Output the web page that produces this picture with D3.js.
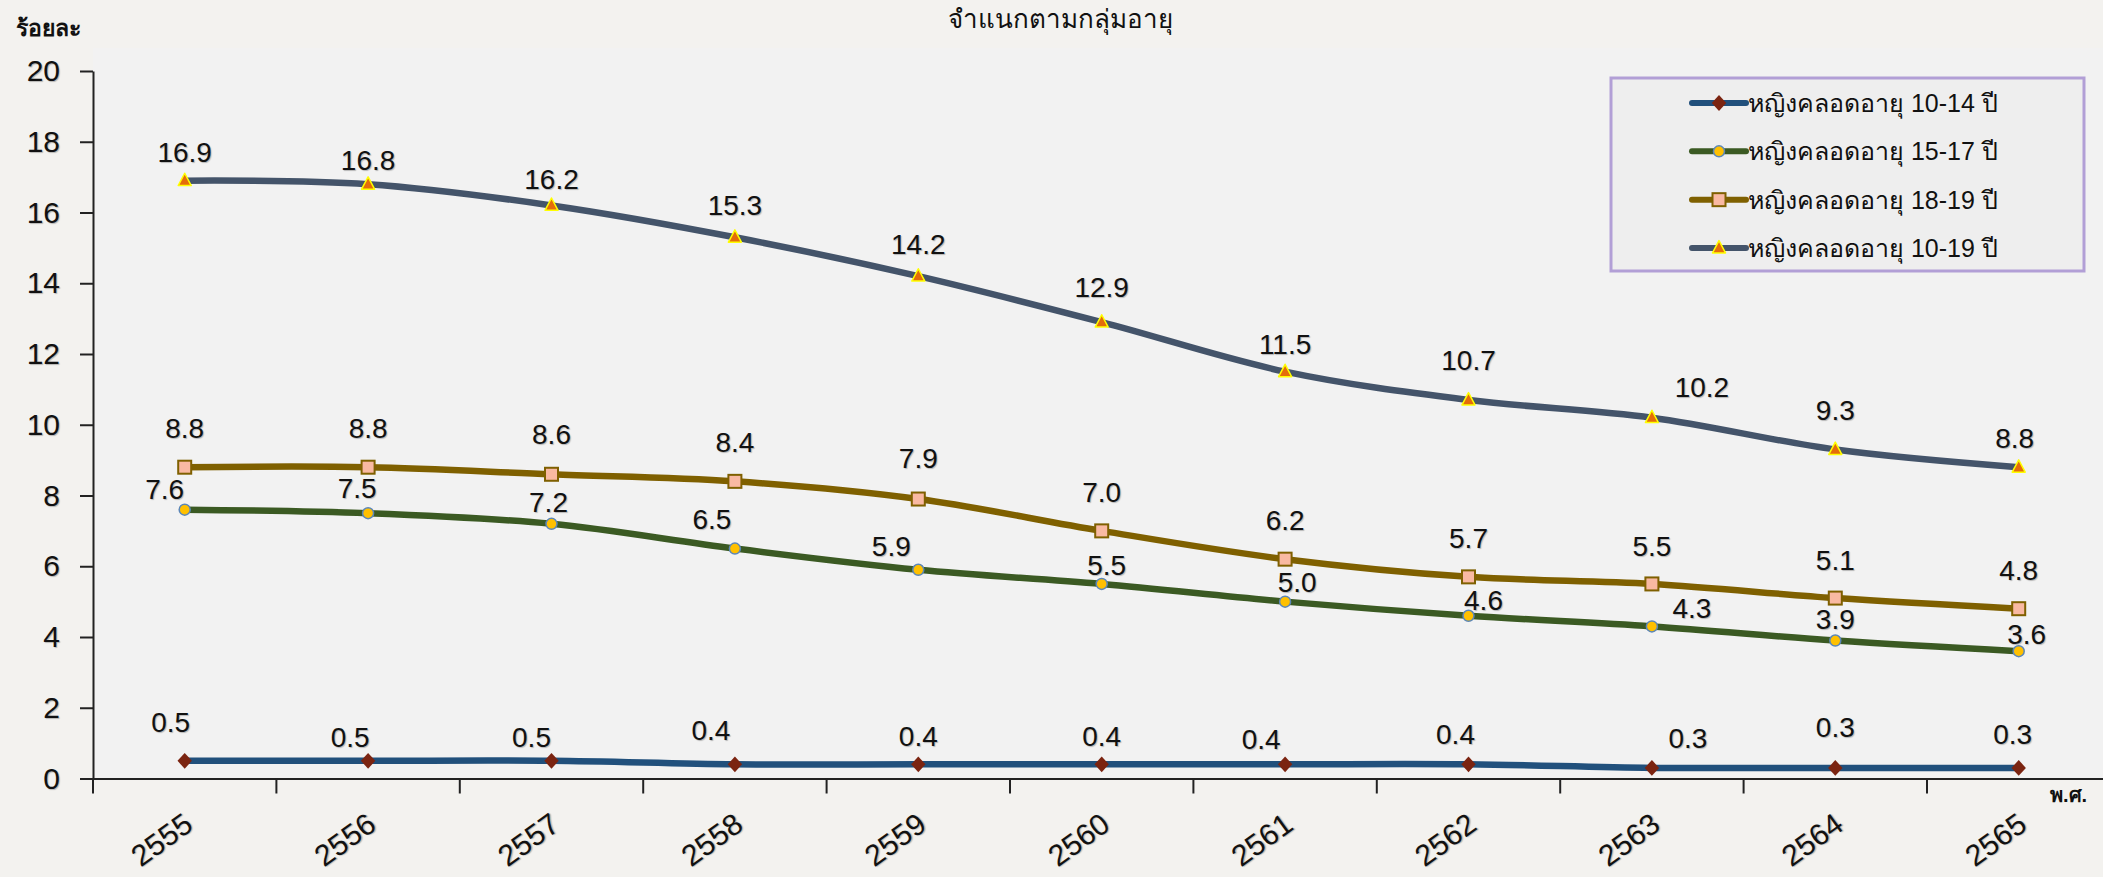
<!DOCTYPE html>
<html>
<head>
<meta charset="utf-8">
<script src="https://cdn.jsdelivr.net/npm/d3@7"></script>
<style>
  body { margin: 0; background: #f3f2ef; }
  svg { display: block; font-family: Tahoma, "Liberation Sans", "Noto Sans", sans-serif; }
  .lbl { text-shadow: 1px 1px 1px rgba(0,0,0,0.25); }
</style>
</head>
<body>
<svg width="2103" height="877"></svg>
<script>
const years = ["2555", "2556", "2557", "2558", "2559", "2560", "2561", "2562", "2563", "2564", "2565"];
const age1014 = [0.5, 0.5, 0.5, 0.4, 0.4, 0.4, 0.4, 0.4, 0.3, 0.3, 0.3];
const age1517 = [7.6, 7.5, 7.2, 6.5, 5.9, 5.5, 5.0, 4.6, 4.3, 3.9, 3.6];
const age1819 = [8.8, 8.8, 8.6, 8.4, 7.9, 7.0, 6.2, 5.7, 5.5, 5.1, 4.8];
const age1019 = [16.9, 16.8, 16.2, 15.3, 14.2, 12.9, 11.5, 10.7, 10.2, 9.3, 8.8];
const seriesNames = ["หญิงคลอดอายุ 10-14 ปี", "หญิงคลอดอายุ 15-17 ปี", "หญิงคลอดอายุ 18-19 ปี", "หญิงคลอดอายุ 10-19 ปี"];
const yTicks = [0, 2, 4, 6, 8, 10, 12, 14, 16, 18, 20];

// label nudges (px) relative to each point, as placed in the original
const nudges = [
  { dx: [-14, -18, -20, -24, 0, 0, -24, -13, 36, 0, -6], dy: [-39, -24, -24, -34, -28, -28, -25, -30, -30, -41, -34] },
  { dx: [-20, -11, -3, -23, -27, 5, 12, 15, 40, 0, 8], dy: [-21, -25, -22, -30, -24, -19, -20, -16, -18, -22, -17] },
  { dx: [0, 0, 0, 0, 0, 0, 0, 0, 0, 0, 0], dy: [-39, -39, -40, -39, -41, -39, -39, -39, -38, -38, -39] },
  { dx: [0, 0, 0, 0, 0, 0, 0, 0, 50, 0, -4], dy: [-29, -24, -27, -32, -32, -35, -28, -40, -31, -40, -29] },
];

const series = [
  { name: seriesNames[0], values: age1014, line: "#21507c", marker: "diamond", fill: "#7b2411", stroke: "#7b2411" },
  { name: seriesNames[1], values: age1517, line: "#3b5a23", marker: "circle", fill: "#ffc000", stroke: "#5b86b8" },
  { name: seriesNames[2], values: age1819, line: "#7f6000", marker: "square", fill: "#f9b9a2", stroke: "#7f6000" },
  { name: seriesNames[3], values: age1019, line: "#44546a", marker: "triangle", fill: "#e46c0a", stroke: "#ffff00" },
];

const svg = d3.select("svg");
const plotLeft = 93, plotBottom = 778.5, plotTop = 71;
const band = 183.4;

const x = d3.scaleBand().domain(years).range([plotLeft, plotLeft + band * years.length]);
const y = d3.scaleLinear().domain([0, 20]).range([plotBottom, plotTop]);
const cx = d => x(d) + x.bandwidth() / 2;

// plot area
svg.append("rect")
  .attr("x", plotLeft).attr("y", 48)
  .attr("width", 2103 - plotLeft).attr("height", plotBottom - 48)
  .attr("fill", "#f2f2f2");

// title (second line of the heading)
svg.append("text")
  .attr("x", 1060).attr("y", 28)
  .attr("text-anchor", "middle")
  .attr("font-size", 26)
  .attr("fill", "#111")
  .text("จำแนกตามกลุ่มอายุ");

svg.append("text")
  .attr("x", 16).attr("y", 36)
  .attr("font-size", 23).attr("font-weight", "bold")
  .attr("fill", "#111")
  .text("ร้อยละ");

svg.append("text")
  .attr("x", 2050).attr("y", 802)
  .attr("font-size", 20).attr("font-weight", "bold")
  .attr("fill", "#111")
  .text("พ.ศ.");

// y axis
const yAxis = svg.append("g")
  .attr("transform", `translate(${plotLeft},0)`)
  .call(d3.axisLeft(y).tickValues(yTicks).tickSize(13).tickSizeOuter(0).tickPadding(20));
yAxis.select(".domain").attr("stroke", "#222").attr("stroke-width", 2);
yAxis.selectAll(".tick line").attr("stroke", "#222").attr("stroke-width", 2);
yAxis.selectAll(".tick text")
  .attr("class", "lbl")
  .attr("font-size", 30).attr("fill", "#111")
  .attr("font-family", "Tahoma, 'Liberation Sans', sans-serif");

// x axis
const xAxis = svg.append("g")
  .attr("transform", `translate(0,${plotBottom})`)
  .call(d3.axisBottom(x).tickSize(0).tickSizeOuter(0));
xAxis.select(".domain").attr("stroke", "#222").attr("stroke-width", 2);
xAxis.selectAll(".tick text")
  .attr("class", "lbl")
  .attr("font-size", 30).attr("fill", "#111")
  .attr("font-family", "Tahoma, 'Liberation Sans', sans-serif")
  .attr("text-anchor", "end")
  .attr("dy", null).attr("y", null)
  .attr("transform", "translate(10,50) rotate(-36)");

// boundary ticks between categories
xAxis.selectAll(".bnd")
  .data(years)
  .join("line")
  .attr("class", "bnd")
  .attr("x1", d => x(d)).attr("x2", d => x(d))
  .attr("y1", 0).attr("y2", 15)
  .attr("stroke", "#222").attr("stroke-width", 2);

// lines
const lineGen = d3.line()
  .x((d, i) => cx(years[i]))
  .y(d => y(d))
  .curve(d3.curveCardinal.tension(0));

svg.selectAll(".series")
  .data(series)
  .join("path")
  .attr("class", "series")
  .attr("d", s => lineGen(s.values))
  .attr("fill", "none")
  .attr("stroke", s => s.line)
  .attr("stroke-width", 6.5)
  .attr("stroke-linejoin", "round");

function drawMarker(g, type, fill, stroke, size) {
  if (type === "diamond") {
    const s = size * 0.6;
    g.append("path").attr("d", `M0,${-s * 1.1}L${s},0L0,${s * 1.1}L${-s},0Z`)
      .attr("fill", fill);
  } else if (type === "circle") {
    g.append("circle").attr("r", size / 2)
      .attr("fill", fill).attr("stroke", stroke).attr("stroke-width", 1.5);
  } else if (type === "square") {
    g.append("rect").attr("x", -size / 2).attr("y", -size / 2)
      .attr("width", size).attr("height", size)
      .attr("fill", fill).attr("stroke", stroke).attr("stroke-width", 2);
  } else {
    const h = size * 0.95;
    g.append("path").attr("d", `M0,${-h * 0.6}L${size / 2},${h * 0.4}L${-size / 2},${h * 0.4}Z`)
      .attr("fill", fill).attr("stroke", stroke).attr("stroke-width", 1.5)
      .attr("stroke-linejoin", "round");
  }
}

const markerSize = { diamond: 12, circle: 11, square: 13, triangle: 13 };

series.forEach((s, si) => {
  s.values.forEach((v, i) => {
    const g = svg.append("g").attr("transform", `translate(${cx(years[i])},${y(v)})`);
    drawMarker(g, s.marker, s.fill, s.stroke, markerSize[s.marker]);
  });
  svg.append("g").selectAll("text")
    .data(s.values)
    .join("text")
    .attr("class", "lbl")
    .attr("x", (v, i) => cx(years[i]) + nudges[si].dx[i])
    .attr("y", (v, i) => y(v) + nudges[si].dy[i])
    .attr("dy", "0.36em")
    .attr("text-anchor", "middle")
    .attr("font-size", 28)
    .attr("fill", "#111")
    .text(v => v.toFixed(1));
});

// legend
const legend = svg.append("g");
legend.append("rect")
  .attr("x", 1611).attr("y", 78).attr("width", 473).attr("height", 193)
  .attr("fill", "#eeeeee").attr("stroke", "#b29fd6").attr("stroke-width", 3);

const legendY = d3.scalePoint().domain(seriesNames).range([103, 248]);
series.forEach(s => {
  const ly = legendY(s.name);
  legend.append("line")
    .attr("x1", 1692).attr("x2", 1746).attr("y1", ly).attr("y2", ly)
    .attr("stroke", s.line).attr("stroke-width", 6).attr("stroke-linecap", "round");
  const g = legend.append("g").attr("transform", `translate(1719,${ly})`);
  drawMarker(g, s.marker, s.fill, s.stroke, markerSize[s.marker]);
  legend.append("text")
    .attr("x", 1748).attr("y", ly).attr("dy", "0.36em")
    .attr("font-size", 25).attr("fill", "#111")
    .text(s.name);
});
</script>
</body>
</html>
